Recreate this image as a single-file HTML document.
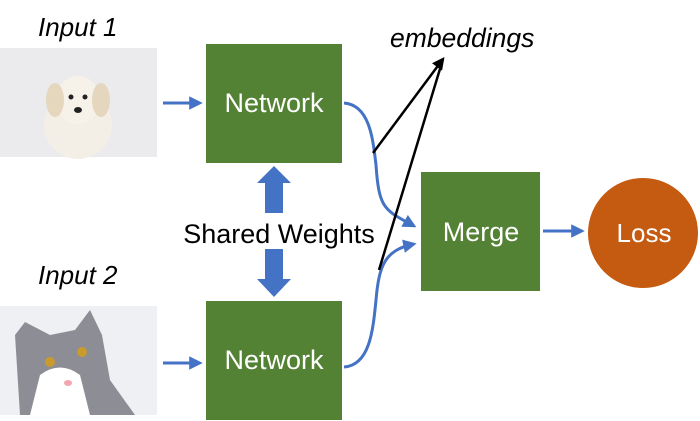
<!DOCTYPE html>
<html><head><meta charset="utf-8"><style>
body{margin:0;background:#fff;}
svg{display:block;}
text{font-family:"Liberation Sans",sans-serif;}
</style></head><body>
<svg width="700" height="421" viewBox="0 0 700 421" xmlns="http://www.w3.org/2000/svg">
<defs>
<marker id="ba" viewBox="0 0 10 10" refX="8" refY="5" markerWidth="4.5" markerHeight="4.5" orient="auto"><path d="M0,0 L10,5 L0,10 Z" fill="#4472c4"/></marker>
<marker id="ka" viewBox="0 0 10 10" refX="8" refY="5" markerWidth="5" markerHeight="5" orient="auto"><path d="M0,0 L10,5 L0,10 Z" fill="#000"/></marker>
</defs>
<text x="38" y="36" font-size="26" font-style="italic">Input 1</text>
<text x="38" y="284" font-size="26" font-style="italic">Input 2</text>
<!-- dog image -->
<rect x="0" y="48" width="157" height="109" fill="#ebebed"/>
<ellipse cx="78" cy="125" rx="34" ry="34" fill="#f3efe6"/>
<ellipse cx="78" cy="100" rx="22" ry="24" fill="#f6f2ea"/>
<ellipse cx="55" cy="100" rx="9" ry="17" fill="#e4d7bd"/>
<ellipse cx="101" cy="100" rx="9" ry="17" fill="#e4d7bd"/>
<circle cx="71" cy="97" r="2.5" fill="#222"/><circle cx="85" cy="97" r="2.5" fill="#222"/>
<ellipse cx="78" cy="110" rx="4" ry="3" fill="#222"/>
<!-- cat image -->
<rect x="0" y="306" width="157" height="109" fill="#eef0f4"/>
<path d="M15,335 L25,322 L50,335 L75,330 L90,310 L102,335 L110,380 L135,415 L20,415 Z" fill="#8d8e95"/>
<path d="M40,375 Q60,360 80,375 L90,415 L30,415 Z" fill="#fff"/>
<circle cx="50" cy="362" r="5" fill="#c99a2e"/><circle cx="82" cy="352" r="5" fill="#c99a2e"/>
<ellipse cx="68" cy="383" rx="4" ry="3" fill="#f2a7b0"/>
<!-- input arrows -->
<line x1="163" y1="103" x2="200" y2="103" stroke="#4472c4" stroke-width="3" marker-end="url(#ba)"/>
<line x1="163" y1="363" x2="200" y2="363" stroke="#4472c4" stroke-width="3" marker-end="url(#ba)"/>
<!-- boxes -->
<rect x="206" y="44" width="136" height="119" fill="#548235"/>
<rect x="206" y="301" width="136" height="119" fill="#548235"/>
<rect x="421" y="172" width="119" height="119" fill="#548235"/>
<text x="274" y="112" font-size="27" fill="#fff" text-anchor="middle">Network</text>
<text x="274" y="369" font-size="27" fill="#fff" text-anchor="middle">Network</text>
<text x="481" y="241" font-size="27" fill="#fff" text-anchor="middle">Merge</text>
<circle cx="643" cy="233" r="55" fill="#c55a11"/>
<text x="644" y="242" font-size="26" fill="#fff" text-anchor="middle">Loss</text>
<!-- shared weights arrows -->
<path d="M265,213 L265,183 L257,183 L274,166 L291,183 L283,183 L283,213 Z" fill="#4472c4"/>
<path d="M265,249 L265,279 L257,279 L274,297 L291,279 L283,279 L283,249 Z" fill="#4472c4"/>
<text x="279" y="243" font-size="27" text-anchor="middle">Shared Weights</text>
<!-- curves -->
<path d="M344,103 C370,105 373,140 376,165 C379,210 385,210 414,226" fill="none" stroke="#4472c4" stroke-width="3" marker-end="url(#ba)"/>
<path d="M344,367 C370,365 373,330 376,300 C379,265 385,250 414,244" fill="none" stroke="#4472c4" stroke-width="3" marker-end="url(#ba)"/>
<line x1="543" y1="231" x2="582" y2="231" stroke="#4472c4" stroke-width="3" marker-end="url(#ba)"/>
<!-- embeddings -->
<text x="390" y="47" font-size="26.5" font-style="italic">embeddings</text>
<line x1="373" y1="153" x2="443" y2="59" stroke="#000" stroke-width="2.5" marker-end="url(#ka)"/>
<line x1="379" y1="270" x2="443" y2="59" stroke="#000" stroke-width="2.5"/>
</svg>
</body></html>
